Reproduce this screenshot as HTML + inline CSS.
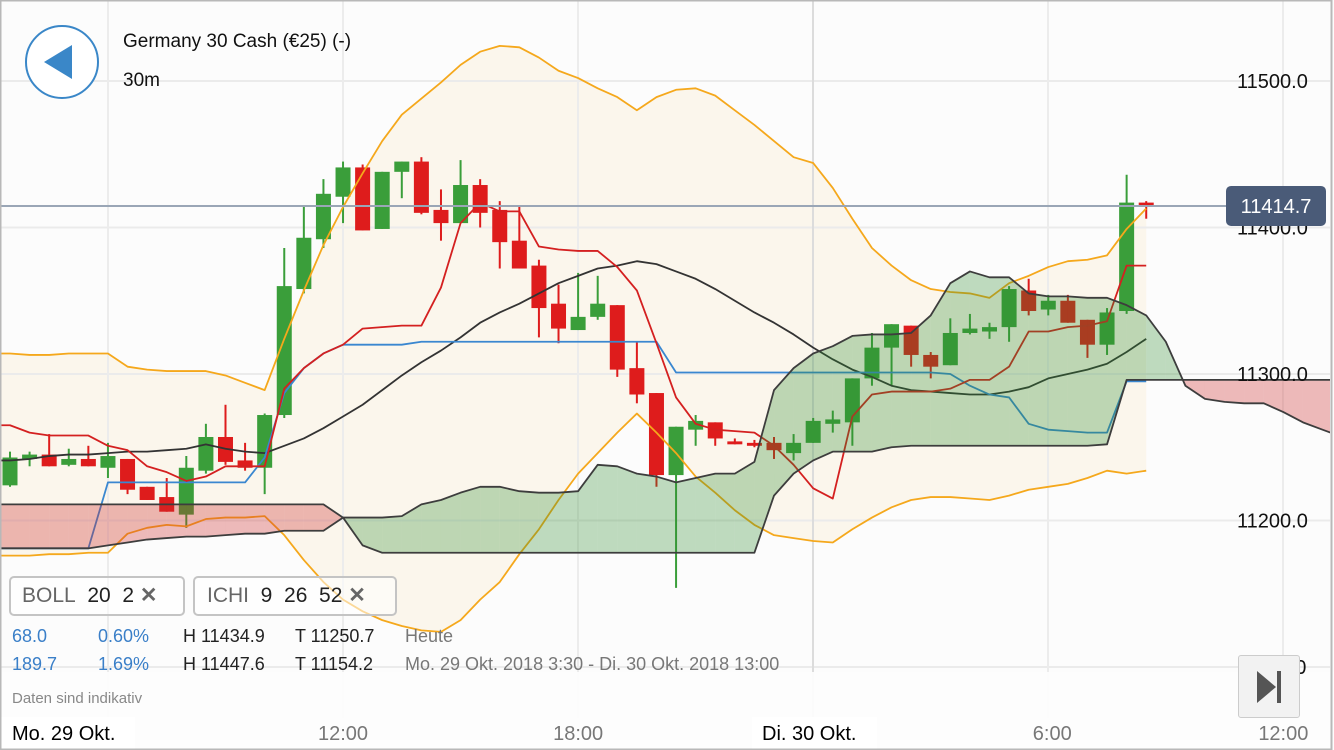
<!DOCTYPE html>
<html><head><meta charset="utf-8"><style>
html,body{margin:0;padding:0;background:#fcfcfc;}
body{width:1334px;height:750px;overflow:hidden;position:relative;font-family:"Liberation Sans",sans-serif;}
svg{position:absolute;left:0;top:0;}
.t{position:absolute;white-space:nowrap;}
</style></head><body>
<svg id="chart" width="1334" height="750"></svg>

<div class="t" style="left:25px;top:25px;width:74px;height:74px;border:2px solid #3a87c8;border-radius:50%;background:#fff;box-sizing:border-box;">
  <div style="position:absolute;left:17px;top:18px;width:0;height:0;border-top:17px solid transparent;border-bottom:17px solid transparent;border-right:28px solid #3a87c8;"></div>
</div>
<div class="t" style="left:123px;top:31px;font-size:19px;color:#111;">Germany 30 Cash (€25) (-)</div>
<div class="t" style="left:123px;top:70px;font-size:19px;color:#111;">30m</div>

<div class="t" style="left:9px;top:576px;width:176px;height:40px;border:2px solid #c4c4c4;border-radius:5px;box-sizing:border-box;background:rgba(255,255,255,0.55);font-size:21px;line-height:36px;padding-left:11px;color:#222;">
<span style="color:#666">BOLL</span>&nbsp; 20&nbsp; 2 <span style="color:#666;font-weight:bold;">✕</span></div>
<div class="t" style="left:193px;top:576px;width:204px;height:40px;border:2px solid #c4c4c4;border-radius:5px;box-sizing:border-box;background:rgba(255,255,255,0.55);font-size:21px;line-height:36px;padding-left:12px;color:#222;">
<span style="color:#666">ICHI</span>&nbsp; 9&nbsp; 26&nbsp; 52 <span style="color:#666;font-weight:bold;">✕</span></div>

<div class="t" style="left:12px;top:626px;font-size:18px;color:#3a7fc8;">68.0</div>
<div class="t" style="left:98px;top:626px;font-size:18px;color:#3a7fc8;">0.60%</div>
<div class="t" style="left:183px;top:626px;font-size:18px;color:#222;">H 11434.9</div>
<div class="t" style="left:295px;top:626px;font-size:18px;color:#222;">T 11250.7</div>
<div class="t" style="left:405px;top:626px;font-size:18px;color:#777;">Heute</div>
<div class="t" style="left:12px;top:654px;font-size:18px;color:#3a7fc8;">189.7</div>
<div class="t" style="left:98px;top:654px;font-size:18px;color:#3a7fc8;">1.69%</div>
<div class="t" style="left:183px;top:654px;font-size:18px;color:#222;">H 11447.6</div>
<div class="t" style="left:295px;top:654px;font-size:18px;color:#222;">T 11154.2</div>
<div class="t" style="left:405px;top:654px;font-size:18px;color:#777;">Mo. 29 Okt. 2018 3:30 - Di. 30 Okt. 2018 13:00</div>
<div class="t" style="left:12px;top:690px;font-size:15px;color:#888;">Daten sind indikativ</div>

<div class="t" style="left:1238px;top:655px;width:62px;height:63px;border:1px solid #ccc;border-radius:3px;background:#f2f2f2;box-sizing:border-box;">
  <div style="position:absolute;left:18px;top:15px;width:0;height:0;border-top:16px solid transparent;border-bottom:16px solid transparent;border-left:19px solid #555;"></div>
  <div style="position:absolute;left:38px;top:15px;width:4px;height:32px;background:#555;"></div>
</div>

<script>
const opens=[11224,11242,11245,11238,11242,11236,11242,11223,11216,11204,11234,11257,11241,11236,11272,11358,11392,11421,11441,11399,11438,11445,11412,11403,11429,11412,11391,11374,11348,11330,11339,11347,11304,11287,11231,11262,11267,11254,11253,11253,11246,11253,11266,11267,11297,11318,11333,11313,11306,11328,11329,11332,11357,11344,11350,11337,11320,11343,11417];
const highs=[11247,11247,11259,11249,11251,11253,11242,11223,11229,11244,11266,11279,11253,11273,11386,11414,11433,11445,11443,11438,11445,11448,11426,11446,11433,11418,11414,11378,11361,11369,11367,11347,11322,11287,11264,11272,11267,11256,11255,11257,11259,11270,11275,11297,11328,11334,11333,11315,11338,11341,11335,11360,11365,11354,11354,11337,11345,11436,11418];
const lows=[11223,11237,11237,11237,11237,11229,11218,11214,11206,11195,11232,11238,11234,11218,11270,11355,11386,11403,11398,11399,11420,11409,11391,11403,11400,11372,11372,11325,11321,11330,11337,11298,11280,11223,11154,11251,11251,11252,11250,11242,11241,11253,11260,11251,11292,11292,11305,11297,11306,11327,11324,11322,11340,11340,11335,11311,11313,11341,11406];
const closes=[11243,11245,11237,11242,11237,11244,11221,11214,11206,11236,11257,11240,11236,11272,11360,11393,11423,11441,11398,11438,11445,11410,11403,11429,11410,11390,11372,11345,11331,11339,11348,11303,11286,11231,11264,11268,11256,11252,11251,11248,11253,11268,11269,11297,11318,11334,11313,11305,11328,11331,11332,11358,11343,11350,11335,11320,11342,11417,11415];
const bollUpper=[11314,11313,11313,11314,11314,11314,11305,11303,11302,11302,11302,11299,11294,11289,11324,11357,11388,11414,11437,11459,11477,11488,11499,11511,11520,11524,11523,11516,11507,11502,11495,11489,11480,11489,11494,11495,11490,11480,11470,11459,11448,11444,11427,11406,11386,11374,11364,11358,11356,11355,11352,11362,11367,11373,11377,11378,11381,11399,11413];
const bollMid=[11241,11242,11244,11245,11245,11246,11247,11247,11248,11249,11252,11249,11247,11246,11251,11256,11263,11271,11279,11289,11299,11308,11316,11325,11335,11342,11348,11355,11362,11367,11372,11374,11377,11375,11370,11365,11358,11350,11342,11335,11327,11318,11310,11303,11298,11292,11289,11288,11287,11286,11286,11288,11291,11297,11300,11303,11307,11315,11324];
const bollLower=[11176,11176,11177,11177,11178,11178,11191,11195,11197,11196,11201,11202,11202,11203,11190,11173,11158,11146,11138,11132,11128,11125,11124,11132,11146,11158,11177,11194,11214,11232,11246,11260,11273,11260,11246,11230,11219,11207,11197,11190,11188,11186,11185,11194,11202,11209,11214,11216,11216,11215,11214,11217,11221,11223,11225,11229,11234,11232,11234];
const tenkan=[11265,11260,11258,11258,11258,11251,11248,11237,11233,11227,11230,11237,11237,11237,11290,11304,11314,11320,11331,11332,11333,11333,11359,11403,11417,11411,11411,11387,11385,11384,11384,11373,11357,11321,11284,11266,11262,11261,11260,11251,11238,11222,11215,11271,11286,11288,11288,11288,11290,11296,11296,11305,11329,11329,11332,11333,11336,11374,11374];
const kijun=[11181,11181,11181,11181,11181,11226,11226,11226,11226,11226,11226,11226,11226,11243,11287,11304,11314,11320,11320,11320,11320,11322,11322,11322,11322,11322,11322,11322,11322,11322,11322,11322,11322,11322,11301,11301,11301,11301,11301,11301,11301,11301,11301,11301,11301,11301,11301,11301,11300,11292,11286,11284,11266,11262,11261,11260,11260,11295,11295];
const spanA=[11181,11181,11181,11181,11181,11183,11185,11187,11188,11189,11189,11190,11191,11191,11193,11193,11193,11202,11202,11202,11203,11211,11214,11219,11223,11223,11220,11219,11219,11220,11238,11237,11232,11230,11226,11229,11232,11232,11240,11289,11304,11314,11319,11326,11327,11327,11328,11340,11362,11370,11366,11366,11355,11353,11353,11352,11352,11347,11340,11322,11292,11283,11281,11280,11280,11274,11267,11262,11257];
const spanB=[11211,11211,11211,11211,11211,11211,11211,11211,11211,11211,11211,11211,11211,11211,11211,11211,11211,11202,11183,11178,11178,11178,11178,11178,11178,11178,11178,11178,11178,11178,11178,11178,11178,11178,11178,11178,11178,11178,11178,11217,11232,11241,11247,11247,11247,11250,11251,11251,11251,11251,11251,11251,11251,11251,11251,11251,11252,11296,11296,11296,11296,11296,11296,11296,11296,11296,11296,11296,11296];
const yTicks=[11500,11400,11300,11200,11100];
const xLabels=["12:00","18:00","6:00","12:00"];
const xLabelIdx=[17,29,53,65];
const lastPrice=11414.7;

const NS="http://www.w3.org/2000/svg";
const svg=document.getElementById('chart');
const X=i=>10+i*19.59;
const Y=v=>374-(v-11300)*1.465;
function el(tag,attrs,parent){const e=document.createElementNS(NS,tag);for(const k in attrs)e.setAttribute(k,attrs[k]);(parent||svg).appendChild(e);return e;}
const defs=el('defs',{});
const cp=el('clipPath',{id:'clip'},defs);el('rect',{x:0,y:0,width:1330,height:718},cp);
const g=el('g',{'clip-path':'url(#clip)'});


function pts(arr){return ['0,'+Y(arr[0])].concat(arr.map((v,i)=>X(i)+','+Y(v)));}

// boll fill
const bp2=pts(bollUpper).concat(pts(bollLower).reverse());
const bf=el('polygon',{points:bp2.join(' '),fill:'rgba(250,222,165,0.18)'},g);



// grid
yTicks.forEach(v=>{const l=el('line',{x1:0,x2:1330,y1:Y(v),y2:Y(v),stroke:'#ebebeb','stroke-width':2},g);

});
[108,343,578,813,1048,1283].forEach((x,k)=>{const l=el('line',{x1:x,x2:x,y1:0,y2:718,stroke:k==3?'#dcdcdc':'#ececec','stroke-width':2},g);

});

// candles
opens.forEach((o,i)=>{const c=closes[i],up=c>=o,col=up?'#3a9e3a':'#de1c1c',x=X(i);
const w=el('line',{x1:x,x2:x,y1:Y(highs[i]),y2:Y(lows[i]),stroke:col,'stroke-width':2},g);


const top=Y(Math.max(o,c)),h=Math.max(2,Y(Math.min(o,c))-top);
const b=el('rect',{x:x-7.5,y:top,width:15,height:h,fill:col},g);

});

function line(arr,col,name,w){const p=el('polyline',{points:pts(arr).join(' '),fill:'none',stroke:col,'stroke-width':w||1.8,'stroke-linejoin':'round'},g);

return p;}
line(bollUpper,'#f5a81c','bollinger-upper');
line(bollLower,'#f5a81c','bollinger-lower');
line(bollMid,'#333','bollinger-middle');
line(kijun,'#3a87d0','ichimoku-kijun');
line(tenkan,'#d42020','ichimoku-tenkan');

// cloud fill
const FX=i=>i<0?0:X(i);
function quad(xa,ya0,yb0,xb,ya1,yb1,pos){const q=el('polygon',{points:[xa+','+ya0,xb+','+ya1,xb+','+yb1,xa+','+yb0].join(' '),fill:pos?'rgba(45,140,45,0.3)':'rgba(205,45,45,0.32)'},g);

}
quad(0,Y(spanA[0]),Y(spanB[0]),X(0),Y(spanA[0]),Y(spanB[0]),spanA[0]>=spanB[0]);
for(let i=0;i<spanA.length-1;i++){
  const a0=spanA[i],a1=spanA[i+1],b0=spanB[i],b1=spanB[i+1];
  const d0=a0-b0,d1=a1-b1;
  if(d0*d1<0){const t=d0/(d0-d1);const xm=X(i)+t*19.59,vm=a0+t*(a1-a0);
    quad(X(i),Y(a0),Y(b0),xm,Y(vm),Y(vm),d0>0);
    quad(xm,Y(vm),Y(vm),X(i+1),Y(a1),Y(b1),d1>0);
  } else quad(X(i),Y(a0),Y(b0),X(i+1),Y(a1),Y(b1),(d0+d1)>=0);
}
line(spanA,'#3d3d3d','ichimoku-span-a',1.8);
line(spanB,'#3d3d3d','ichimoku-span-b',1.8);

// price line
const pl=el('line',{x1:0,x2:1226,y1:Y(lastPrice),y2:Y(lastPrice),stroke:'#9aa6b6','stroke-width':2},g);



// bottom white panel
const bp=el('rect',{x:0,y:672,width:1334,height:46,fill:'rgba(253,253,253,0.92)'});



// y tick labels
yTicks.forEach(v=>{const t=el('text',{x:1237,y:Y(v)+7,'font-size':20,fill:'#111','font-family':'Liberation Sans, sans-serif'});t.textContent=v.toFixed(1);

});

// last price label
const lb=el('rect',{x:1226,y:Y(lastPrice)-20,width:100,height:40,rx:5,fill:'#4a5b78'});


const lt=el('text',{x:1276,y:Y(lastPrice)+7,'font-size':20,fill:'#fff','text-anchor':'middle','font-family':'Liberation Sans, sans-serif'});lt.textContent=lastPrice.toFixed(1);



// x axis
const xa=el('rect',{x:0,y:718,width:1334,height:32,fill:'#fdfdfd'});


[[0,135,'Mo. 29 Okt.',12],[752,125,'Di. 30 Okt.',762]].forEach(d=>{
  const r=el('rect',{x:d[0],y:717,width:d[1],height:33,fill:'#fff'});
  
  
  const t=el('text',{x:d[3],y:740,'font-size':20,fill:'#000','font-family':'Liberation Sans, sans-serif'});t.textContent=d[2];
  
  });
xLabels.forEach((s,k)=>{const t=el('text',{x:X(xLabelIdx[k])-(k==2?-4:0),y:740,'font-size':20,fill:'#777','text-anchor':'middle','font-family':'Liberation Sans, sans-serif'});t.textContent=s;

});

// frame
const fr=el('rect',{x:0.5,y:0.5,width:1331,height:749,fill:'none',stroke:'#b8b8b8','stroke-width':2});


</script>
</body></html>
